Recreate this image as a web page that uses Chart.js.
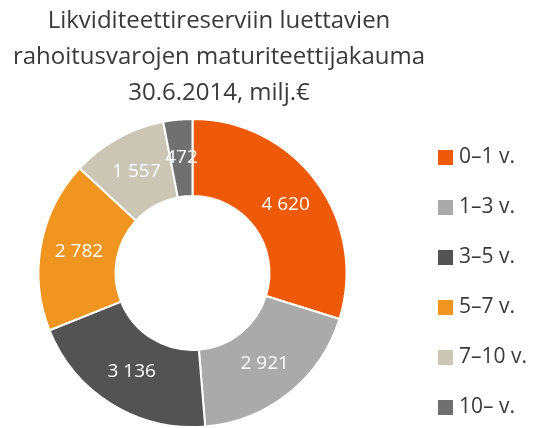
<!DOCTYPE html>
<html>
<head>
<meta charset="utf-8">
<script src="https://cdn.jsdelivr.net/npm/chart.js@4"></script>
<style>
  html, body { margin: 0; padding: 0; background: #fff; }
  #wrap { width: 534px; height: 428px; position: relative; }
</style>
</head>
<body>
<div id="wrap"><canvas id="chart"></canvas></div>
<script>
// data
const titleLines = ["Likviditeettireserviin luettavien", "rahoitusvarojen maturiteettijakauma", "30.6.2014, milj.€"];
const categories = ["0–1 v.", "1–3 v.", "3–5 v.", "5–7 v.", "7–10 v.", "10– v."];
const values = [4620, 2921, 3136, 2782, 1557, 472];
const sliceColors = ["#ee5a08", "#aaaaaa", "#535353", "#f0951f", "#cbc6b6", "#707070"];

const FONT = "'Open Sans', sans-serif";

function fmt(v) {
  // finnish style thousands separator (space)
  return String(v).replace(/\B(?=(\d{3})+(?!\d))/g, " ");
}

// title + legend + value labels drawn by hand so they sit where the reference has them
const decorations = {
  id: "decorations",
  afterDatasetsDraw(chart) {
    const ctx = chart.ctx;
    ctx.save();

    // slice values
    ctx.fillStyle = "#ffffff";
    ctx.font = "19px " + FONT;
    ctx.textAlign = "center";
    ctx.textBaseline = "middle";
    chart.getDatasetMeta(0).data.forEach((arc, i) => {
      const p = arc.tooltipPosition();
      ctx.fillText(fmt(values[i]), p.x, p.y);
    });

    // title
    ctx.fillStyle = "#3a3a3a";
    ctx.font = "24px " + FONT;
    titleLines.forEach((line, i) => {
      ctx.fillText(line, 219, 21 + i * 36);
    });

    // legend
    ctx.font = "21px " + FONT;
    ctx.textAlign = "left";
    categories.forEach((label, i) => {
      const y = 157 + i * 50;
      ctx.fillStyle = sliceColors[i];
      ctx.fillRect(438, y - 7, 15, 15);
      ctx.fillStyle = "#3a3a3a";
      ctx.fillText(label, 459, y);
    });

    ctx.restore();
  },
};

new Chart(document.getElementById("chart"), {
  type: "doughnut",
  data: {
    labels: categories,
    datasets: [{
      data: values,
      backgroundColor: sliceColors,
      borderColor: "#ffffff",
      borderWidth: 2,
    }],
  },
  options: {
    responsive: true,
    maintainAspectRatio: false,
    animation: false,
    cutout: "50%",
    layout: { padding: { top: 118, left: 37, right: 186, bottom: 0 } },
    plugins: {
      legend: { display: false },
      title: { display: false },
      tooltip: { enabled: false },
    },
  },
  plugins: [decorations],
});
</script>
</body>
</html>
